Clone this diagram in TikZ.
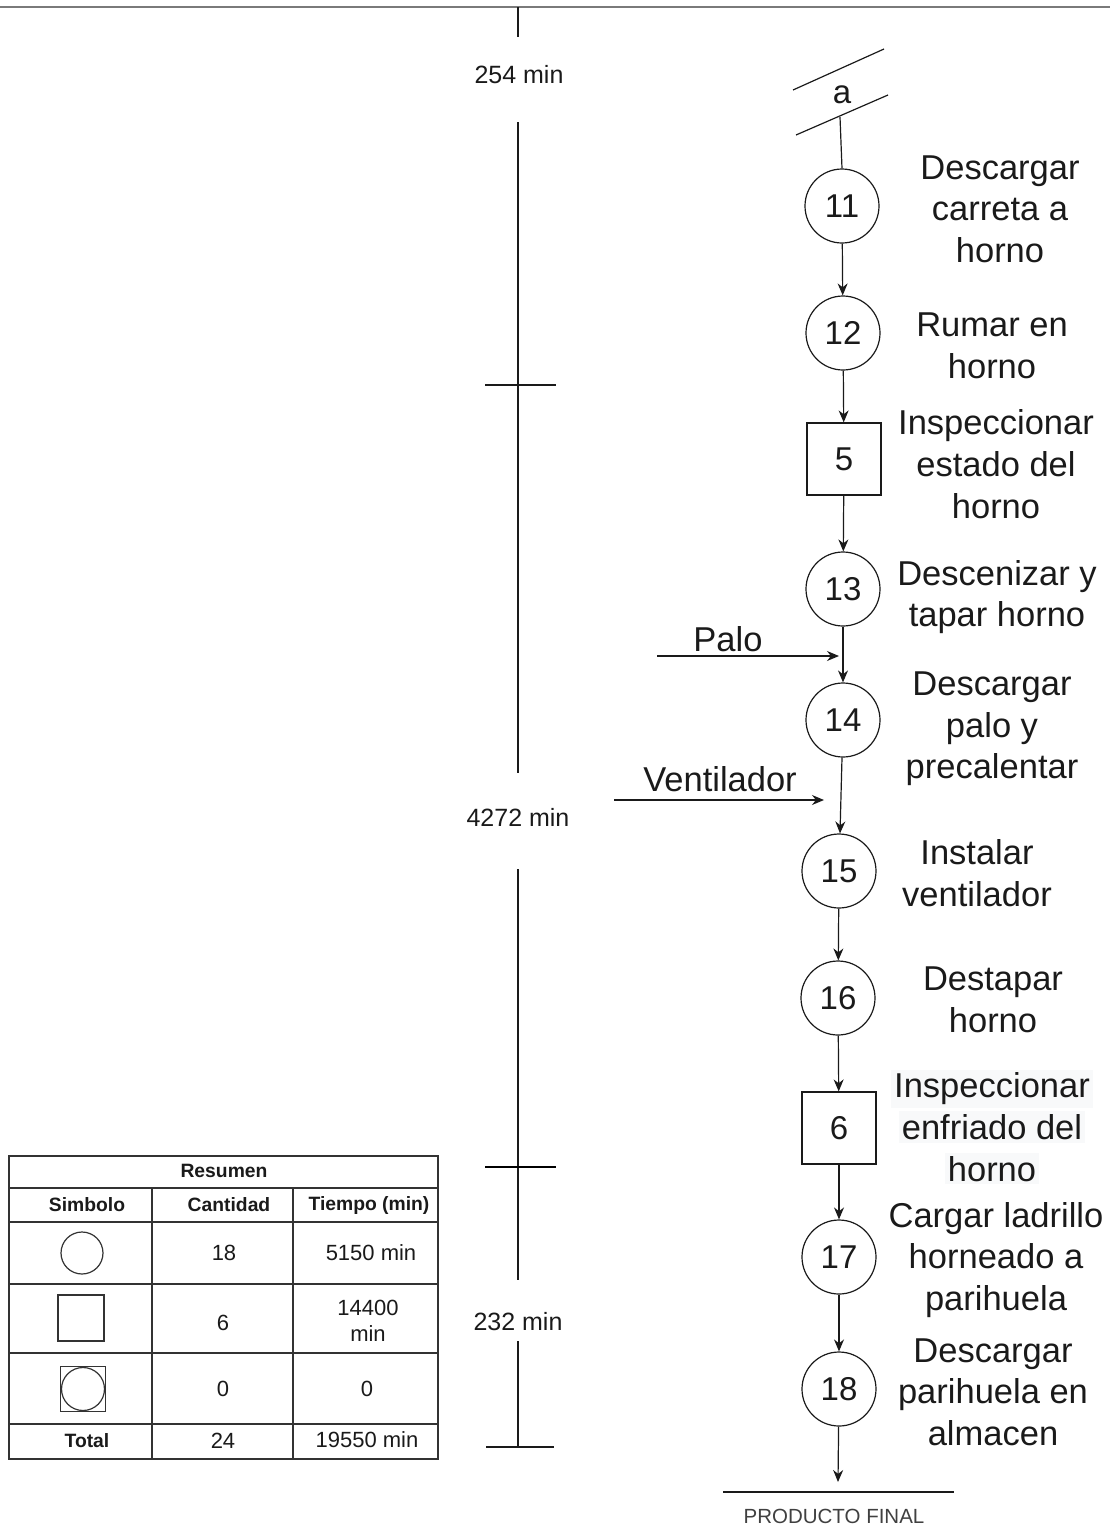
\documentclass[tikz,border=0pt]{standalone}
\usepackage{fontspec}
\setmainfont{Liberation Sans}
\usetikzlibrary{arrows.meta}
\definecolor{ink}{HTML}{1A1A1A}
\definecolor{rulegray}{HTML}{7A7A7A}
\definecolor{tabline}{HTML}{333333}
\definecolor{faint}{HTML}{404040}
\definecolor{hl}{HTML}{F8F9FA}
\begin{document}
\begin{tikzpicture}[x=1pt,y=-1pt,
  op/.style={circle,draw=ink,line width=1.2pt,minimum size=74pt,inner sep=0pt,font=\fontsize{33}{38}\selectfont,text=ink},
  insp/.style={rectangle,draw=ink,line width=1.2pt,minimum width=74pt,minimum height=72pt,inner sep=0pt,font=\fontsize{33}{38}\selectfont,text=ink},
  lbl/.style={align=center,inner sep=0pt,font=\fontsize{34.5}{41.7}\selectfont,text=ink},
  flow/.style={draw=ink,line width=1.2pt,-{Stealth[length=12pt,width=10pt]}},
  tline/.style={draw=ink,line width=1.2pt},
  tlabel/.style={font=\fontsize{25}{30}\selectfont,text=ink,inner sep=0pt},
  thead/.style={font=\fontsize{19.3}{22}\selectfont\bfseries,text=ink,inner sep=0pt},
  tcell/.style={font=\fontsize{22}{25.5}\selectfont,text=ink,inner sep=0pt,align=center},
  tabrule/.style={draw=tabline,line width=1.2pt},
  sym/.style={draw=tabline,line width=1.2pt}
]
\useasboundingbox (0,0) rectangle (1110,1534);

% top rule
\draw[rulegray,line width=2.2pt] (0,7) -- (1110,7);

% ---------- time line ----------
\coordinate (tA0) at (518,7);
\coordinate (tA1) at (518,37);
\coordinate (tB0) at (518,122);
\coordinate (tB1) at (518,773);
\coordinate (tC0) at (518,869);
\coordinate (tC1) at (518,1280);
\coordinate (tD0) at (518,1341);
\coordinate (tD1) at (518,1447);
\draw[tline] (tA0) -- (tA1);
\draw[tline] (tB0) -- (tB1);
\draw[tline] (tC0) -- (tC1);
\draw[tline] (tD0) -- (tD1);
\coordinate (k1a) at (485,385); \coordinate (k1b) at (556,385);
\coordinate (k2a) at (485,1167); \coordinate (k2b) at (556,1167);
\coordinate (k3a) at (486,1447); \coordinate (k3b) at (554,1447);
\draw[tline] (k1a) -- (k1b);
\draw[draw=black,line width=2.6pt] (k2a) -- (k2b);
\draw[tline] (k3a) -- (k3b);
\node[tlabel] (t1) at (519,75) {254 min};
\node[tlabel] (t2) at (518,817) {4272 min};
\node[tlabel] (t3) at (518,1322) {232 min};

% ---------- connector "a" ----------
\coordinate (ua) at (793,90); \coordinate (ub) at (884,49);
\coordinate (la) at (796,135); \coordinate (lb) at (888,95);
\draw[tline] (ua) -- (ub);
\draw[tline] (la) -- (lb);
\node[font=\fontsize{33}{38}\selectfont,text=ink,inner sep=0pt] (a) at (842,95) {a};
\coordinate (aout) at (840,117);

% ---------- process nodes ----------
\node[op]   (n11) at (842,206)  {11};
\node[op]   (n12) at (843,333)  {12};
\node[insp] (i5)  at (844,459)  {5};
\node[op]   (n13) at (843,589)  {13};
\node[op]   (n14) at (843,720)  {14};
\node[op]   (n15) at (839,871)  {15};
\node[op]   (n16) at (838,998)  {16};
\node[insp] (i6)  at (839,1128) {6};
\node[op]   (n17) at (839,1257) {17};
\node[op]   (n18) at (839,1389) {18};

% ---------- labels ----------
\node[lbl] at (1000,209) {Descargar\\carreta a\\horno};
\node[lbl] at (992,346) {Rumar en\\horno};
\node[lbl] at (996,464) {Inspeccionar\\estado del\\horno};
\node[lbl] at (997,597) {Descenizar y\\tapar horno};
\node[lbl] at (992,729) {Descargar\\palo y\\precalentar};
\node[lbl] at (977,873) {Instalar\\ventilador};
\node[lbl] at (993,1000) {Destapar\\horno};
\node[lbl] at (992,1127) {\colorbox{hl}{Inspeccionar}\\[-0pt]\colorbox{hl}{enfriado del}\\\colorbox{hl}{horno}};
\node[lbl] at (996,1260) {Cargar ladrillo\\horneado a\\parihuela};
\node[lbl] at (993,1392) {Descargar\\parihuela en\\almacen};

% ---------- flow ----------
\draw[tline] (aout) -- (n11.north);
\draw[flow] (n11) -- (n12);
\draw[flow] (n12) -- (i5);
\draw[flow] (i5) -- (n13);
\draw[flow] (n13) -- (n14);
\draw[flow] (n14) -- (n15);
\draw[flow] (n15) -- (n16);
\draw[flow] (n16) -- (i6);
\draw[flow] (i6) -- (n17);
\draw[flow] (n17) -- (n18);
\coordinate (endp) at (838,1482);
\draw[flow] (n18) -- (endp);
\coordinate (pfa) at (723,1492); \coordinate (pfb) at (954,1492);
\draw[draw=ink,line width=1.2pt] (pfa) -- (pfb);
\node[font=\fontsize{20.5}{24}\selectfont,text=faint,inner sep=0pt] (pf) at (834,1516) {PRODUCTO FINAL};

% ---------- inputs ----------
\coordinate (palo0) at (657,656); \coordinate (palo1) at (839,656);
\draw[flow] (palo0) -- (palo1);
\node[lbl] (palo) at (728,639) {Palo};
\coordinate (ven0) at (614,800); \coordinate (ven1) at (824,800);
\draw[flow] (ven0) -- (ven1);
\node[lbl] (ven) at (720,779) {Ventilador};

% ---------- summary table ----------
\draw[tabrule] (9,1156) rectangle (438,1459);
\draw[tabrule] (9,1188) -- (438,1188);
\draw[tabrule] (9,1222) -- (438,1222);
\draw[tabrule] (9,1284) -- (438,1284);
\draw[tabrule] (9,1353) -- (438,1353);
\draw[tabrule] (9,1424) -- (438,1424);
\draw[tabrule] (152,1188) -- (152,1459);
\draw[tabrule] (293,1188) -- (293,1459);

\node[thead] at (224,1171) {Resumen};
\node[thead] at (87,1205) {Simbolo};
\node[thead] at (229,1205) {Cantidad};
\node[thead] at (369,1205) {Tiempo (min)};

\node[sym,circle,minimum size=42pt,inner sep=0pt] (s1) at (82,1253) {};
\node[sym,rectangle,minimum size=46pt,inner sep=0pt] (s2) at (81,1318) {};
\node[sym,rectangle,minimum size=45pt,inner sep=0pt] (s3) at (83,1389) {};
\node[sym,circle,minimum size=43pt,inner sep=0pt] (s3c) at (83,1389) {};

\node[tcell] at (224,1253) {18};
\node[tcell] at (371,1253) {5150 min};
\node[tcell] at (223,1323) {6};
\node[tcell] at (368,1321) {14400\\min};
\node[tcell] at (223,1389) {0};
\node[tcell] at (367,1389) {0};
\node[thead] at (87,1441) {Total};
\node[tcell] at (223,1441) {24};
\node[tcell] at (367,1440) {19550 min};
\end{tikzpicture}
\end{document}
